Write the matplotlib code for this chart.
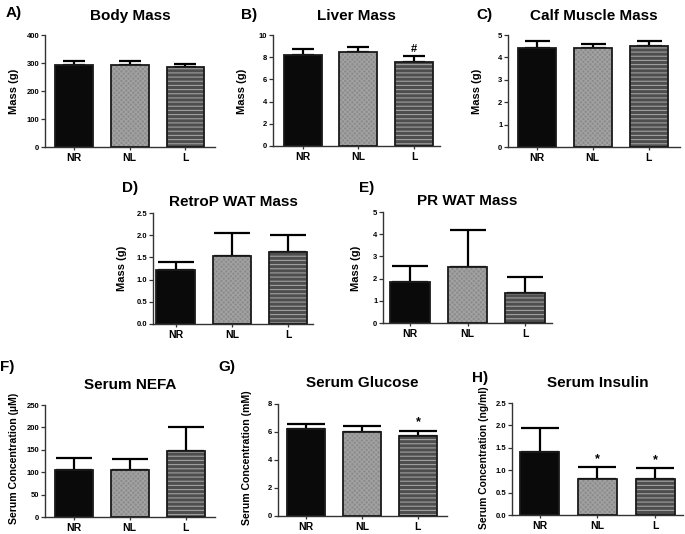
import matplotlib
matplotlib.use("Agg")
import matplotlib.pyplot as plt
import numpy as np

plt.rcParams['font.family'] = ['Liberation Sans', 'DejaVu Sans']
plt.rcParams['font.weight'] = 'bold'
plt.rcParams['hatch.linewidth'] = 0.8

groups = ["NR", "NL", "L"]

panel_letters = ["A)", "B)", "C)", "D)", "E)", "F)", "G)", "H)"]
titles = ["Body Mass", "Liver Mass", "Calf Muscle Mass", "RetroP WAT Mass",
          "PR WAT Mass", "Serum NEFA", "Serum Glucose", "Serum Insulin"]
ylabels = ["Mass (g)", "Mass (g)", "Mass (g)", "Mass (g)", "Mass (g)",
           "Serum Concentration (\u00b5M)", "Serum Concentration (mM)",
           "Serum Concentration (ng/ml)"]

body_mass = [292, 294, 286]
body_mass_err = [15, 13, 9]
liver_mass = [8.2, 8.45, 7.57]
liver_mass_err = [0.5, 0.5, 0.53]
calf_mass = [4.43, 4.43, 4.51]
calf_mass_err = [0.28, 0.18, 0.22]
retrop_mass = [1.22, 1.53, 1.62]
retrop_mass_err = [0.18, 0.51, 0.39]
pr_mass = [1.83, 2.51, 1.35]
pr_mass_err = [0.72, 1.68, 0.71]
nefa = [106, 104, 148]
nefa_err = [26, 25, 54]
glucose = [6.21, 6.03, 5.74]
glucose_err = [0.36, 0.4, 0.36]
insulin = [1.41, 0.81, 0.81]
insulin_err = [0.53, 0.26, 0.23]

values = [body_mass, liver_mass, calf_mass, retrop_mass, pr_mass, nefa, glucose, insulin]
errors = [body_mass_err, liver_mass_err, calf_mass_err, retrop_mass_err,
          pr_mass_err, nefa_err, glucose_err, insulin_err]
yticks = [np.arange(0, 401, 100), np.arange(0, 11, 2), np.arange(0, 6, 1),
          np.arange(0, 2.51, 0.5), np.arange(0, 6, 1), np.arange(0, 251, 50),
          np.arange(0, 9, 2), np.arange(0, 2.51, 0.5)]
ytick_fmt = ["%d", "%d", "%d", "%.1f", "%d", "%d", "%d", "%.1f"]
marks = [{}, {2: "#"}, {}, {}, {}, {}, {2: "*"}, {1: "*", 2: "*"}]

# layout (pixels): left, top, right, bottom
W, H = 685, 534
boxes = [(45, 35, 215, 147), (273, 35, 440, 146), (508, 35, 680, 147),
         (153, 213, 313, 324), (383, 212, 552, 323),
         (45, 405, 215, 517), (278, 404, 447, 516), (512, 403, 683, 515)]
xlims = [(-0.52, 2.53), (-0.53, 2.46), (-0.51, 2.56), (-0.40, 2.44),
         (-0.47, 2.47), (-0.51, 2.52), (-0.50, 2.52), (-0.48, 2.48)]
letter_pos = [(6, 13), (241, 15), (476, 15), (122, 188), (359, 188),
              (0, 367), (218, 367), (472, 378)]
title_dy = [19, 19, 19, 11, 11, 20, 21, 20]
ylabel_dx = [31, 31, 31, 31, 27, 31, 31, 28]
ylabel_cy = [91, 91, 91, 268, 268, 458, 458, 458]
ylabel_fs = [8, 8, 8, 8, 8, 7.6, 7.6, 7.4]
capsizes = [8, 8, 9, 13, 13, 13, 14, 14]

fig = plt.figure(figsize=(W / 100, H / 100), dpi=100)

faces = ["#0a0a0a", "#8c8c8c", "#4e4e4e"]
hatches = [None, "xxxxxxx", "----"]
hatch_cols = ["#0a0a0a", "#a2a2a2", "#a0a0a0"]
axcol = "#333333"

for i in range(8):
    l, t, r, b = boxes[i]
    ax = fig.add_axes([l / W, 1 - b / H, (r - l) / W, (b - t) / H])
    x = np.arange(3)
    v = values[i]
    e = errors[i]
    ax.errorbar(x, v, yerr=[np.zeros(3), e], fmt="none", ecolor="black",
                elinewidth=1.6, capsize=capsizes[i], capthick=1.6, zorder=1)
    for j in range(3):
        ax.bar(x[j], v[j], width=0.68, color=faces[j], hatch=hatches[j],
               edgecolor=hatch_cols[j], linewidth=0, zorder=2)
        ax.bar(x[j], v[j], width=0.68, fill=False, edgecolor="#1a1a1a",
               linewidth=1.3, zorder=3)
    for j, s in marks[i].items():
        ax.annotate(s, xy=(x[j], v[j] + e[j]), xytext=(0, 1.5),
                    textcoords="offset points", ha="center", va="bottom",
                    fontsize=9 if s == "*" else 8, fontweight="bold")
    yt = yticks[i]
    ax.set_ylim(0, yt[-1])
    ax.set_xlim(*xlims[i])
    ax.set_yticks(yt)
    ax.set_yticklabels([ytick_fmt[i] % t_ for t_ in yt], fontsize=5.5,
                       fontweight="bold")
    ax.set_xticks(x)
    ax.set_xticklabels(groups, fontsize=7.5, fontweight="bold")
    ax.tick_params(axis="y", length=3, width=0.9, pad=1, color=axcol)
    ax.tick_params(axis="x", length=2.5, width=0.9, pad=2, color=axcol)
    for sp in ["top", "right"]:
        ax.spines[sp].set_visible(False)
    for sp in ["left", "bottom"]:
        ax.spines[sp].set_linewidth(1.0)
        ax.spines[sp].set_color(axcol)
    ax.annotate(titles[i], xy=(0.5, 1), xycoords="axes fraction",
                xytext=(0, title_dy[i] * 0.72), textcoords="offset points",
                ha="center", va="center", fontsize=11, fontweight="bold")
    fig.text((l - ylabel_dx[i]) / W, 1 - ylabel_cy[i] / H, ylabels[i],
             rotation=90, ha="center", va="center", fontsize=ylabel_fs[i],
             fontweight="bold")
    lx, ly = letter_pos[i]
    fig.text(lx / W, 1 - ly / H, panel_letters[i], ha="left", va="center",
             fontsize=11, fontweight="bold")

fig.savefig("out.png", dpi=100, facecolor="white")
